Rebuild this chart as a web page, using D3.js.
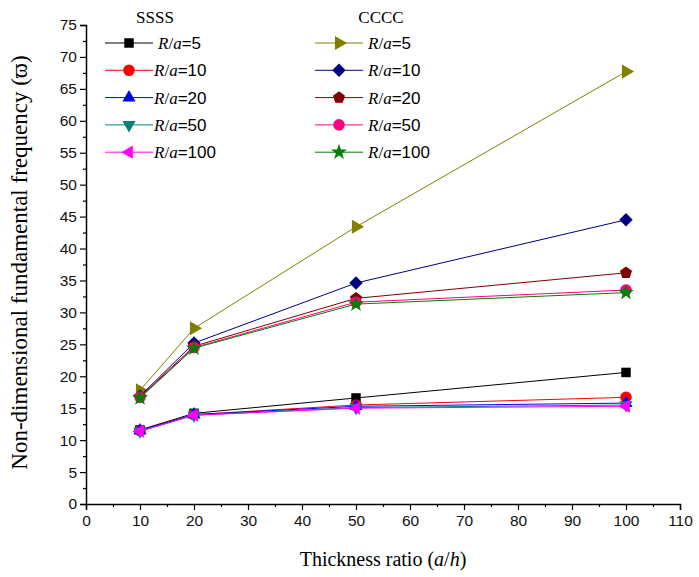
<!DOCTYPE html>
<html>
<head>
<meta charset="utf-8">
<script src="https://cdn.jsdelivr.net/npm/d3@7"></script>
<style>
  body { margin: 0; background: #fff; }
  svg { display: block; }
</style>
</head>
<body>
<svg id="chart" width="699" height="577"></svg>
<script>
const thickness = [10, 20, 50, 100]
const ratios = ['5', '10', '20', '50', '100']

// SSSS plates
const ssss5 = [11.6, 14.2, 16.6, 20.6]
const ssss10 = [11.5, 14.0, 15.5, 16.7]
const ssss20 = [11.5, 14.0, 15.3, 15.8]
const ssss50 = [11.4, 13.9, 15.1, 15.5]
const ssss100 = [11.4, 13.9, 15.0, 15.3]

// CCCC plates
const cccc5 = [17.8, 27.5, 43.4, 67.7]
const cccc10 = [16.9, 25.2, 34.6, 44.5]
const cccc20 = [16.8, 24.7, 32.2, 36.2]
const cccc50 = [16.7, 24.5, 31.6, 33.5]
const cccc100 = [16.6, 24.4, 31.3, 33.1]

const xTicks = d3.range(0, 111, 10)
const yTicks = d3.range(0, 76, 5)

const font = 'Liberation Sans'
const serif = 'Liberation Serif'

const margin = {left: 86, top: 25, right: 19, bottom: 73}
const width = 699 - margin.left - margin.right
const height = 577 - margin.top - margin.bottom

// custom marker shapes
function polygon(n, rot) {
  return {
    draw(ctx, size) {
      const r = Math.sqrt(size / (n * Math.sin(2 * Math.PI / n) / 2))
      for (let i = 0; i < n; i++) {
        const a = rot + i * 2 * Math.PI / n
        const px = r * Math.cos(a), py = r * Math.sin(a)
        if (i === 0) ctx.moveTo(px, py); else ctx.lineTo(px, py)
      }
      ctx.closePath()
    }
  }
}
const triUp = polygon(3, -Math.PI / 2)
const triDown = polygon(3, Math.PI / 2)
const triLeft = polygon(3, Math.PI)
const triRight = polygon(3, 0)
const diamond = polygon(4, -Math.PI / 2)
const pentagon = polygon(5, -Math.PI / 2)

const series = [
  {group: 'SSSS', r: ratios[0], values: ssss5, color: '#000000', shape: d3.symbolSquare, size: 90},
  {group: 'SSSS', r: ratios[1], values: ssss10, color: '#ff0000', shape: d3.symbolCircle, size: 105},
  {group: 'SSSS', r: ratios[2], values: ssss20, color: '#0000ff', shape: triUp, size: 75},
  {group: 'SSSS', r: ratios[3], values: ssss50, color: '#008080', shape: triDown, size: 75},
  {group: 'SSSS', r: ratios[4], values: ssss100, color: '#ff00ff', shape: triLeft, size: 75},
  {group: 'CCCC', r: ratios[0], values: cccc5, color: '#808000', shape: triRight, size: 85},
  {group: 'CCCC', r: ratios[1], values: cccc10, color: '#000080', shape: diamond, size: 90},
  {group: 'CCCC', r: ratios[2], values: cccc20, color: '#800000', shape: pentagon, size: 95},
  {group: 'CCCC', r: ratios[3], values: cccc50, color: '#ff0080', shape: d3.symbolCircle, size: 105},
  {group: 'CCCC', r: ratios[4], values: cccc100, color: '#008000', shape: d3.symbolStar, size: 80}
]

const svg = d3.select('#chart')
const chart = svg.append('g').attr('transform', `translate(${margin.left},${margin.top})`)

const xScale = d3.scaleLinear().domain([0, 110]).range([0, width])
const yScale = d3.scaleLinear().domain([0, 75]).range([height, 0])

// axes with major + minor ticks
const xMinor = chart.append('g').attr('transform', `translate(0,${height})`)
  .call(d3.axisBottom(xScale).tickValues(d3.range(5, 110, 10)).tickSize(3).tickFormat(''))
const xAxis = chart.append('g').attr('transform', `translate(0,${height})`)
  .call(d3.axisBottom(xScale).tickValues(xTicks).tickSize(6).tickPadding(5))
const yMinor = chart.append('g')
  .call(d3.axisLeft(yScale).tickValues(d3.range(2.5, 75, 5)).tickSize(3).tickFormat(''))
const yAxis = chart.append('g')
  .call(d3.axisLeft(yScale).tickValues(yTicks).tickSize(6).tickPadding(3))

chart.selectAll('.domain').attr('stroke', '#000').attr('stroke-width', 1.5)
chart.selectAll('.tick line').attr('stroke', '#000').attr('stroke-width', 1.2)
chart.selectAll('.tick text')
  .attr('font-family', font)
  .attr('font-size', 15.5)
  .attr('fill', '#111')
xMinor.select('.domain').remove()
yMinor.select('.domain').remove()

// axis titles
chart.append('text')
  .attr('x', width / 2)
  .attr('y', height + 62)
  .attr('text-anchor', 'middle')
  .attr('font-family', serif)
  .attr('font-size', 20)
  .call(t => {
    t.append('tspan').text('Thickness ratio (')
    t.append('tspan').attr('font-style', 'italic').text('a')
    t.append('tspan').text('/')
    t.append('tspan').attr('font-style', 'italic').text('h')
    t.append('tspan').text(')')
  })

chart.append('text')
  .attr('transform', `translate(${-59},${height / 2 - 2}) rotate(-90)`)
  .attr('text-anchor', 'middle')
  .attr('font-family', serif)
  .attr('font-size', 23)
  .text('Non-dimensional fundamental frequency (\u03D6)')

// data lines and markers
const line = d3.line()
  .x((d, i) => xScale(thickness[i]))
  .y(d => yScale(d))

const groups = chart.selectAll('.series')
  .data(series)
  .enter()
  .append('g')
  .attr('class', 'series')

groups.append('path')
  .attr('d', s => line(s.values))
  .attr('fill', 'none')
  .attr('stroke', s => s.color)
  .attr('stroke-width', 1)

groups.each(function(s) {
  d3.select(this).selectAll('path.mark')
    .data(s.values)
    .enter()
    .append('path')
    .attr('class', 'mark')
    .attr('transform', (d, i) => `translate(${xScale(thickness[i])},${yScale(d)})`)
    .attr('d', d3.symbol().type(s.shape).size(s.size))
    .attr('fill', s.color)
})

// legend
const legendCols = {SSSS: {x: 105, head: 155}, CCCC: {x: 315, head: 381}}
Object.keys(legendCols).forEach(g => {
  svg.append('text')
    .attr('x', legendCols[g].head)
    .attr('y', 23)
    .attr('text-anchor', 'middle')
    .attr('font-family', serif)
    .attr('font-size', 17)
    .text(g)
})

series.forEach(s => {
  const col = legendCols[s.group]
  const row = ratios.indexOf(s.r)
  const y = 43 + row * 27.3
  const item = svg.append('g').attr('transform', `translate(${col.x},${y})`)
  item.append('line')
    .attr('x1', 0).attr('x2', 48)
    .attr('stroke', s.color)
    .attr('stroke-width', 1)
  item.append('path')
    .attr('transform', 'translate(24,0)')
    .attr('d', d3.symbol().type(s.shape).size(s.size))
    .attr('fill', s.color)
  item.append('text')
    .attr('x', s.group === 'SSSS' && s.r.length > 1 ? 49 : 53)
    .attr('y', 6)
    .attr('font-size', 17)
    .call(t => {
      t.append('tspan').attr('font-family', serif).attr('font-style', 'italic').text('R')
      t.append('tspan').attr('font-family', serif).text('/')
      t.append('tspan').attr('font-family', serif).attr('font-style', 'italic').text('a')
      t.append('tspan').attr('font-family', font).text('=' + s.r)
    })
})
</script>
</body>
</html>
